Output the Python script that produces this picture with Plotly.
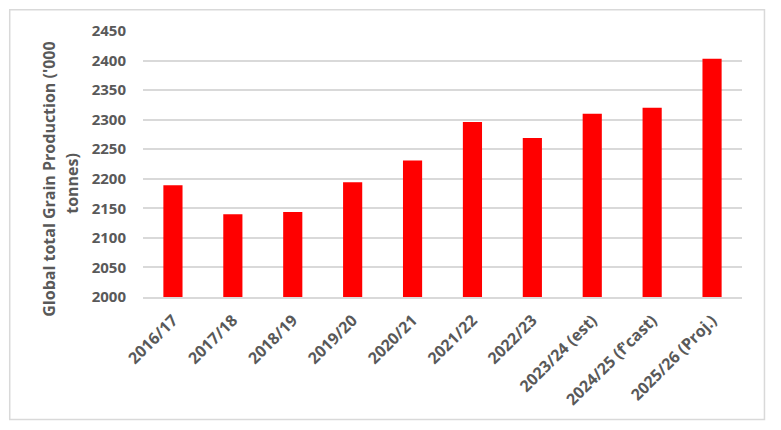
import plotly.graph_objects as go

categories = ["2016/17", "2017/18", "2018/19", "2019/20", "2020/21", "2021/22",
              "2022/23", "2023/24 (est)", "2024/25 (f'cast)", "2025/26 (Proj.)"]
production = [2189, 2140, 2144, 2194, 2231, 2296, 2269, 2310, 2320, 2403]
y_ticks = [2000, 2050, 2100, 2150, 2200, 2250, 2300, 2350, 2400, 2450]
title_lines = ["Global total Grain Production ('000", "tonnes)"]

FONT = "Open Sans"
GREY = "#595959"
GRID = "#D9D9D9"

fig = go.Figure(go.Bar(x=categories, y=production, marker=dict(color="#FF0000", line=dict(width=0))))

# page body has an 8px default margin; shift the figure up/left to compensate
fig.update_layout(
    width=781, height=430,
    margin=dict(l=134.5, r=46.5, t=23.2, b=141.3),
    paper_bgcolor="white", plot_bgcolor="white",
    bargap=0.68,
    showlegend=False,
    font=dict(family=FONT, color=GREY),
)
fig.update_xaxes(
    tickangle=-45,
    tickfont=dict(family=FONT, size=16, color=GREY, weight="bold"),
    showline=True, linecolor=GRID, linewidth=1.5,
    showgrid=False, ticks="",
    ticklabelstandoff=6,
)
fig.update_yaxes(
    range=[2000, 2450],
    tickvals=y_ticks,
    tickfont=dict(family=FONT, size=15, color=GREY, weight="bold"),
    showgrid=True, gridcolor=GRID, gridwidth=1.5,
    zeroline=False, showline=False, ticks="",
    ticklabelstandoff=16,
)
for txt, xp, yp in zip(title_lines, [-0.1575, -0.1175], [0.4433, 0.428]):
    fig.add_annotation(
        text=txt, xref="paper", yref="paper", x=xp, y=yp,
        textangle=-90, showarrow=False,
        font=dict(family=FONT, size=16, color=GREY, weight="bold"),
        xanchor="center", yanchor="middle",
    )
fig.add_shape(
    type="rect", xref="paper", yref="paper",
    x0=-0.2225, x1=1.0375, y0=-0.4606, y1=1.0798,
    line=dict(color=GRID, width=1.5), fillcolor="rgba(0,0,0,0)", layer="below",
)
fig.write_html("out.html")
